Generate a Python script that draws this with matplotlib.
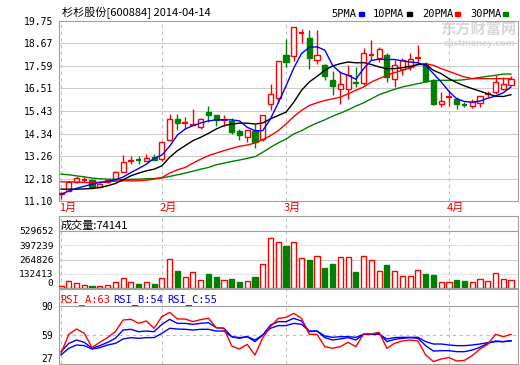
import matplotlib
matplotlib.use('Agg')
import matplotlib.pyplot as plt
from matplotlib.patches import Rectangle
import numpy as np

plt.rcParams['font.family'] = ['Noto Sans CJK SC', 'DejaVu Sans']

# daily bars 2014-01-14 .. 2014-04-14
opens = [11.42, 11.58, 11.99, 12.09, 12.10, 11.79, 11.99, 12.15, 12.50, 13.04,
         13.08, 13.03, 13.23, 13.11, 14.03, 15.05, 14.83, 14.76, 14.68, 15.40,
         15.21, 15.00, 14.95, 14.45, 14.16, 14.48, 14.08, 15.77, 16.05, 18.14,
         18.07, 19.17, 18.91, 17.86, 17.62, 16.90, 16.50, 16.50, 16.82, 16.78,
         18.10, 17.95, 18.14, 16.98, 17.43, 17.54, 17.97, 17.70, 16.93, 15.77,
         16.09, 16.01, 15.74, 15.66, 15.82, 16.25, 16.34, 16.50, 16.69]
highs = [11.52, 12.07, 12.31, 12.31, 12.14, 11.99, 12.15, 12.55, 13.31, 13.28,
         13.28, 13.36, 13.36, 13.97, 15.26, 15.29, 15.13, 15.53, 15.08, 15.66,
         15.24, 15.21, 15.08, 14.56, 14.52, 14.80, 15.24, 16.71, 17.82, 18.88,
         19.47, 19.36, 19.31, 19.31, 17.70, 17.33, 17.33, 17.62, 17.54, 18.43,
         18.83, 18.51, 18.19, 17.86, 17.95, 18.19, 18.62, 17.78, 16.98, 16.34,
         16.42, 16.09, 15.88, 16.01, 16.14, 16.37, 17.17, 17.06, 17.09]
lows = [11.21, 11.56, 11.97, 11.99, 11.75, 11.77, 11.97, 12.13, 12.48, 12.87,
        12.87, 13.01, 13.06, 13.03, 14.01, 14.52, 14.56, 14.74, 14.56, 14.92,
        14.72, 14.72, 14.32, 14.05, 13.95, 13.63, 14.00, 15.45, 15.82, 17.54,
        17.83, 18.67, 17.46, 17.66, 16.90, 16.17, 15.77, 16.01, 16.58, 16.66,
        17.86, 17.78, 16.82, 16.58, 17.14, 17.38, 17.70, 16.82, 15.69, 15.61,
        15.66, 15.53, 15.61, 15.56, 15.61, 16.10, 16.25, 16.42, 16.66]
closes = [11.50, 11.99, 12.20, 12.11, 11.78, 11.94, 12.12, 12.50, 12.99, 13.08,
          13.05, 13.19, 13.08, 13.95, 15.05, 14.85, 14.86, 14.79, 15.02, 15.24,
          15.00, 15.03, 14.40, 14.27, 14.52, 13.92, 15.24, 16.25, 17.82, 17.78,
          19.47, 19.21, 17.98, 18.14, 17.11, 16.63, 16.74, 17.17, 16.76, 18.22,
          18.13, 18.40, 17.06, 17.62, 17.86, 17.90, 17.99, 16.87, 15.77, 15.90,
          16.11, 15.77, 15.72, 15.88, 16.14, 16.25, 16.82, 16.74, 16.95]
volumes = [15000, 65000, 43000, 28000, 21000, 18600, 28000, 53000, 90000, 53000,
           34000, 53000, 34000, 90000, 269000, 158000, 102000, 146000, 74000, 130000,
           105000, 74000, 84000, 59000, 65000, 105000, 223000, 462000, 425000, 390000,
           425000, 276000, 260000, 294000, 189000, 223000, 285000, 285000, 149000, 294000,
           257000, 155000, 214000, 155000, 111000, 111000, 164000, 130000, 121000, 53000,
           53000, 74000, 65000, 53000, 84000, 65000, 136000, 84000, 74141]

ma5 = [11.42, 11.58, 11.71, 11.81, 11.91, 11.99, 12.04, 12.12, 12.25, 12.47,
       12.66, 12.87, 13.15, 13.31, 13.73, 14.27, 14.56, 14.72, 14.85, 14.95,
       15.00, 15.00, 15.00, 14.95, 14.64, 14.48, 14.48, 15.05, 15.82, 16.63,
       17.49, 18.19, 18.48, 18.51, 18.35, 17.62, 17.27, 17.14, 16.95, 17.46,
       17.86, 17.91, 17.90, 17.90, 17.83, 17.78, 17.74, 17.62, 17.22, 16.82,
       16.37, 16.01, 15.88, 15.85, 15.90, 16.04, 16.14, 16.30, 16.58]
ma10 = [11.67, 11.67, 11.67, 11.68, 11.70, 11.75, 11.83, 11.94, 12.12, 12.31,
        12.44, 12.55, 12.63, 12.79, 13.20, 13.52, 13.76, 14.00, 14.16, 14.35,
        14.56, 14.72, 14.80, 14.84, 14.84, 14.80, 14.85, 15.05, 15.21, 15.37,
        15.85, 16.42, 16.82, 17.09, 17.38, 17.59, 17.70, 17.78, 17.74, 17.75,
        17.66, 17.54, 17.46, 17.46, 17.51, 17.57, 17.66, 17.66, 17.38, 17.22,
        16.98, 16.79, 16.63, 16.50, 16.38, 16.25, 16.14, 16.12, 16.21]
ma20 = [12.02, 12.02, 12.01, 11.99, 11.99, 12.00, 12.04, 12.05, 12.07, 12.07,
        12.07, 12.10, 12.15, 12.23, 12.44, 12.60, 12.71, 12.92, 13.11, 13.28,
        13.40, 13.52, 13.63, 13.73, 13.79, 13.89, 14.05, 14.24, 14.48, 14.80,
        15.16, 15.45, 15.69, 15.82, 15.93, 16.01, 16.09, 16.25, 16.42, 16.58,
        16.82, 16.98, 17.14, 17.27, 17.38, 17.49, 17.66, 17.70, 17.62, 17.46,
        17.33, 17.19, 17.06, 16.98, 16.98, 16.98, 16.98, 16.98, 16.98]
ma30 = [12.39, 12.36, 12.31, 12.26, 12.20, 12.17, 12.15, 12.14, 12.12, 12.14,
        12.15, 12.17, 12.18, 12.21, 12.28, 12.36, 12.44, 12.53, 12.63, 12.71,
        12.84, 12.92, 13.00, 13.07, 13.15, 13.23, 13.44, 13.68, 13.89, 14.08,
        14.32, 14.48, 14.68, 14.85, 15.00, 15.18, 15.32, 15.48, 15.66, 15.82,
        16.01, 16.21, 16.34, 16.47, 16.58, 16.66, 16.74, 16.82, 16.88, 16.90,
        16.90, 16.90, 16.93, 16.98, 17.04, 17.09, 17.14, 17.20, 17.20]

rsi_a = [38.7, 59.5, 65.3, 60.6, 45.0, 50.8, 55.9, 62.4, 75.2, 76.0,
         71.6, 74.1, 66.1, 78.9, 83.6, 76.3, 76.3, 73.4, 75.6, 77.1,
         66.8, 66.1, 46.7, 43.4, 48.5, 36.8, 55.8, 67.9, 77.0, 78.0,
         82.5, 77.0, 59.5, 59.5, 46.0, 44.2, 46.0, 50.8, 46.0, 59.9,
         59.9, 61.7, 44.2, 49.7, 52.2, 53.3, 52.2, 36.9, 29.6, 32.5,
         34.0, 30.3, 31.0, 36.2, 43.4, 48.6, 59.5, 56.9, 59.5]
rsi_b = [40.5, 49.6, 53.3, 50.7, 44.2, 47.1, 50.7, 55.1, 64.2, 65.0,
         62.4, 63.1, 62.4, 70.4, 75.9, 71.5, 71.5, 70.4, 71.5, 72.3,
         66.8, 66.1, 56.9, 55.1, 56.9, 51.5, 58.8, 69.7, 73.4, 73.4,
         77.0, 74.1, 62.4, 63.1, 55.9, 53.3, 54.4, 55.9, 53.3, 59.5,
         59.9, 60.6, 51.5, 54.0, 55.1, 55.9, 55.1, 47.1, 41.2, 41.6,
         41.6, 40.5, 40.5, 42.3, 45.3, 49.6, 52.2, 51.5, 52.6]
rsi_c = [36.9, 44.2, 47.8, 47.1, 43.4, 44.9, 47.8, 49.6, 54.4, 55.9,
         55.1, 55.9, 55.9, 60.6, 66.1, 65.3, 65.0, 64.2, 65.0, 65.0,
         63.1, 63.1, 56.9, 55.9, 56.9, 53.3, 58.8, 66.1, 69.0, 69.0,
         71.5, 70.4, 63.1, 63.1, 57.7, 56.2, 56.9, 56.9, 56.2, 59.5,
         59.5, 59.5, 54.4, 55.9, 56.2, 56.2, 56.2, 51.5, 48.9, 48.9,
         47.8, 47.1, 47.1, 47.8, 48.9, 50.4, 51.5, 51.5, 52.2]

month_names = ['1月', '2月', '3月', '4月']
month_starts = [0, 13, 29, 50]
price_ticks = [11.10, 12.18, 13.26, 14.34, 15.43, 16.51, 17.59, 18.67, 19.75]
vol_ticks = [0, 132413, 264826, 397239, 529652]
rsi_ticks = [27, 59, 90]

RED = '#ff0000'
GREEN = '#008000'
BLUE = '#0000ff'
GRID = '#cccccc'
EDGE = '#a0a0a0'
W, H = 520, 365

fig = plt.figure(figsize=(5.2, 3.65), dpi=100)


def box(top, bottom, left=59, right=518):
    return [left / W, 1 - bottom / H, (right - left) / W, (bottom - top) / H]


def ftext(x, y, s, **kw):
    fig.text(x / W, 1 - y / H, s, **kw)


ax_p = fig.add_axes(box(21, 201))
ax_v = fig.add_axes(box(216, 288))
ax_r = fig.add_axes(box(289, 364))

x = np.arange(len(closes))
for ax in (ax_p, ax_v, ax_r):
    ax.set_xlim(-0.26, 58.9)
    ax.set_xticks([])
    for s in ax.spines.values():
        s.set_color(EDGE)
    ax.tick_params(axis='y', length=0, pad=4)
    for m in month_starts:
        ax.axvline(m, color='#c0c0c0', ls=(0, (3, 3)), lw=0.8, zorder=1)

# price panel
ax_p.set_ylim(11.10, 19.75)
ax_p.set_yticks(price_ticks)
ax_p.set_yticklabels(['%.2f' % t for t in price_ticks],
                     fontfamily='DejaVu Sans Mono', fontsize=7)
for t in price_ticks[1:-1]:
    ax_p.axhline(t, color=GRID, lw=0.8, zorder=1)

for i in x:
    o, hi, lo, c = opens[i], highs[i], lows[i], closes[i]
    col = RED if c >= o else GREEN
    ax_p.vlines(i, lo, hi, color=col, lw=1, zorder=3)
    top, bot = max(o, c), min(o, c)
    if top - bot < 0.04:
        ax_p.hlines((o + c) / 2, i - 0.36, i + 0.36, color=col, lw=1.6, zorder=4)
    else:
        ax_p.add_patch(Rectangle((i - 0.33, bot), 0.66, top - bot,
                                 facecolor='white' if c >= o else col,
                                 edgecolor=col, lw=1, zorder=4))

ax_p.plot(x, ma30, color=GREEN, lw=1, zorder=5)
ax_p.plot(x, ma20, color=RED, lw=1, zorder=5)
ax_p.plot(x, ma10, color='black', lw=1, zorder=5)
ax_p.plot(x, ma5, color=BLUE, lw=1, zorder=5)

for m, name in zip(month_starts, month_names):
    ax_p.text(m - 0.3, -0.04, name, transform=ax_p.get_xaxis_transform(),
              color=RED, fontsize=8, ha='left', va='center')

# watermark
ax_p.text(478 / W, 1 - 29 / H, '东方财富网', transform=fig.transFigure,
          color='#d8d8d8', fontsize=11, fontweight='bold', ha='center', va='center', zorder=0.5)
ax_p.text(479 / W, 1 - 43 / H, 'eastmoney.com', transform=fig.transFigure,
          color='#d8d8d8', fontsize=6.5, fontweight='bold', ha='center', va='center', zorder=0.5)

# volume panel
vol_top = vol_ticks[-1] * 72 / 57
ax_v.set_ylim(0, vol_top)
ax_v.set_yticks(vol_ticks)
ax_v.set_yticklabels([str(t) for t in vol_ticks], fontfamily='DejaVu Sans Mono', fontsize=6.8)
ax_v.get_yticklabels()[0].set_va('bottom')
ax_v.axhline(vol_ticks[4], color=EDGE, lw=0.8, zorder=1)
ax_v.axhline(vol_ticks[3], color=GRID, lw=0.8, ls=(0, (1, 1)), zorder=1)
ax_v.axhline(vol_ticks[2], color=GRID, lw=0.8, zorder=1)
ax_v.axhline(vol_ticks[1], color=GRID, lw=0.8, ls=(0, (1, 1)), zorder=1)
up = np.array(closes) >= np.array(opens)
edge_cols = [RED if u else GREEN for u in up]
face_cols = ['white' if u else GREEN for u in up]
ax_v.bar(x, volumes, width=0.66, color=face_cols, edgecolor=edge_cols, lw=1, zorder=3)
ax_v.text(0.003, 1 - 10 / 72, '成交量:%d' % volumes[-1], transform=ax_v.transAxes,
          fontsize=8, ha='left', va='center')

# rsi panel
rsi_top = 27 + 75 / 0.913
ax_r.set_ylim(27, rsi_top)
ax_r.set_yticks(rsi_ticks)
ax_r.set_yticklabels([str(t) for t in rsi_ticks], fontfamily='DejaVu Sans Mono', fontsize=7)
ax_r.get_yticklabels()[0].set_va('bottom')
ax_r.axhline(90, color=EDGE, lw=0.8, zorder=1)
ax_r.axhline(59, color='#c0c0c0', lw=0.8, ls=(0, (3, 3)), zorder=1)
ax_r.plot(x, rsi_c, color=BLUE, lw=1, zorder=4)
ax_r.plot(x, rsi_b, color=BLUE, lw=1, zorder=4)
ax_r.plot(x, rsi_a, color=RED, lw=1, zorder=5)
ftext(60, 300, 'RSI_A:63', color=RED, fontsize=7.5, fontfamily='DejaVu Sans Mono', va='center')
ftext(113, 300, 'RSI_B:54', color=BLUE, fontsize=7.5, fontfamily='DejaVu Sans Mono', va='center')
ftext(167, 300, 'RSI_C:55', color=BLUE, fontsize=7.5, fontfamily='DejaVu Sans Mono', va='center')

# title and legend
ftext(62, 13, '杉杉股份[600884] 2014-04-14', fontsize=8, va='center')
legend = [('5PMA', BLUE, 331, 359), ('10PMA', 'black', 373, 407),
          ('20PMA', RED, 422, 455), ('30PMA', GREEN, 470, 503)]
for name, col, tx, sx in legend:
    ftext(tx, 14, name, fontsize=7.5, fontfamily='DejaVu Sans Mono', va='center')
    fig.add_artist(Rectangle((sx / W, 1 - 16 / H), 5 / W, 4 / H,
                             transform=fig.transFigure, color=col))

fig.savefig('out.png', dpi=100)
